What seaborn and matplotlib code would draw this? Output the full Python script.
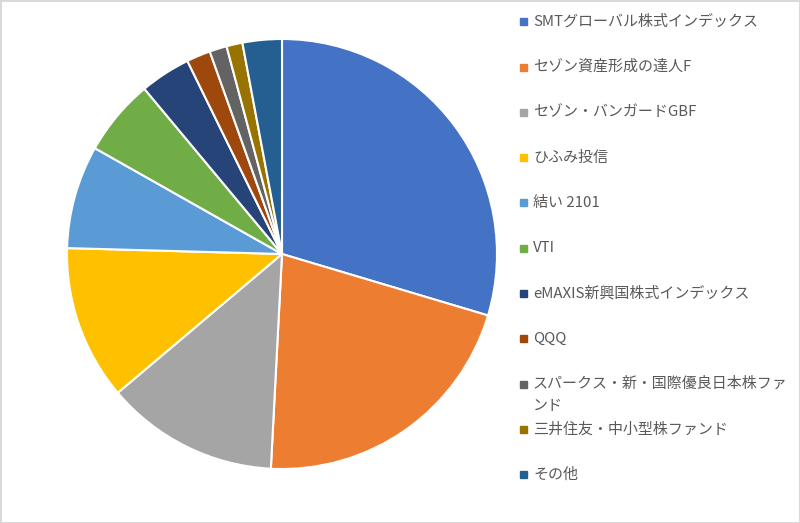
import matplotlib
matplotlib.use("Agg")
import matplotlib.pyplot as plt
import seaborn as sns

# portfolio share (%)
funds = [
    "SMTグローバル株式インデックス",
    "セゾン資産形成の達人F",
    "セゾン・バンガードGBF",
    "ひふみ投信",
    "結い 2101",
    "VTI",
    "eMAXIS新興国株式インデックス",
    "QQQ",
    "スパークス・新・国際優良日本株ファ\nンド",
    "三井住友・中小型株ファンド",
    "その他",
]
shares = [29.6, 21.2, 13.0, 11.6, 7.75, 5.75, 3.8, 1.8, 1.3, 1.2, 2.95]
fund_colors = ["#4472C4", "#ED7D31", "#A5A5A5", "#FFC000", "#5B9BD5", "#70AD47",
               "#264478", "#9E480E", "#636363", "#997300", "#255E91"]

sns.set_theme(style="white")
plt.rcParams["font.family"] = ["Noto Sans CJK JP", "DejaVu Sans"]
palette = sns.color_palette(fund_colors)

W, H = 800, 523
fig = plt.figure(figsize=(W / 100, H / 100), dpi=100)
fig.patch.set_facecolor("white")
fig.patch.set_edgecolor("#d9d9d9")
fig.patch.set_linewidth(1)

# pie centred at (282, 254) px with radius 215 px
cx, cy, r = 282, 254, 215
ax = fig.add_axes([(cx - r) / W, (H - cy - r) / H, 2 * r / W, 2 * r / H])
ax.pie(shares, colors=palette, startangle=90, counterclock=False,
       wedgeprops=dict(edgecolor="white", linewidth=1.5))
ax.set_xlim(-1, 1)
ax.set_ylim(-1, 1)
ax.set_aspect("equal")
ax.axis("off")

# legend drawn by hand so the wrapped entry keeps the even spacing
y0, step, line_h = 21.7, 45.3, 22
for i, (name, col) in enumerate(zip(funds, palette)):
    y = y0 + i * step
    fig.patches.append(plt.Rectangle(((523 - 3.5) / W, 1 - (y + 3.5) / H), 7 / W, 7 / H,
                                     transform=fig.transFigure, color=col, figure=fig))
    for j, line in enumerate(name.split("\n")):
        fig.text(533 / W, 1 - (y + j * line_h) / H, line, fontsize=10.8,
                 color="#595959", ha="left", va="center")

fig.savefig("out.png", dpi=100)
